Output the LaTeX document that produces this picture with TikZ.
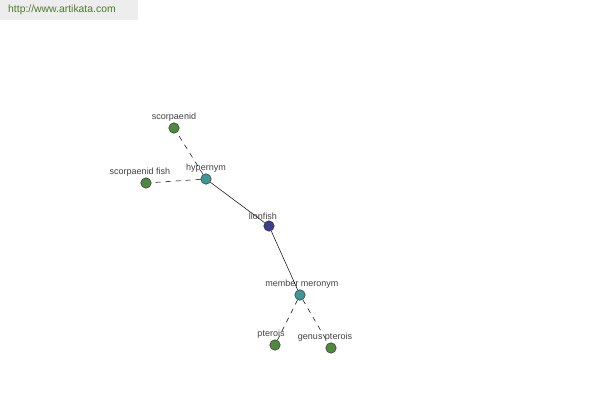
\documentclass[tikz,border=0pt]{standalone}
\usepackage{fontspec}
\setmainfont{Liberation Sans}
\usetikzlibrary{positioning}

\definecolor{leafgreen}{HTML}{4E8A3E}
\definecolor{relteal}{HTML}{3E9696}
\definecolor{rootblue}{HTML}{3C3F8E}
\definecolor{labelgray}{HTML}{404040}
\definecolor{sitegreen}{HTML}{4C7A2E}

\begin{document}
\begin{tikzpicture}[x=1pt, y=-1pt,
    dot/.style={circle, draw=black!80, line width=0.5pt, minimum size=10.5pt, inner sep=0pt},
    leaf/.style={dot, fill=leafgreen},
    rel/.style={dot, fill=relteal},
    root/.style={dot, fill=rootblue},
    tag/.style={above=1pt, inner sep=0pt, font=\fontsize{9}{10}\selectfont, text=labelgray},
    link/.style={line width=0.5pt},
    weak/.style={link, dashed, dash pattern=on 5pt off 5pt}]
    \useasboundingbox (0,0) rectangle (600,400);

    % site banner
    \fill[black!7] (0,0) rectangle (138,20);
    \node[font=\fontsize{10.4}{12}\selectfont, text=sitegreen, anchor=west, inner sep=0pt] (site) at (8,10) {http://www.artikata.com};

    % nodes
    \node[root] (lionfish) at (269,226) {};
    \node[rel] (hyper) at (206,179) {};
    \node[rel] (member) at (300,295) {};
    \node[leaf] (scorp) at (174,128) {};
    \node[leaf] (scorpfish) at (146,183) {};
    \node[leaf] (pterois) at (275,345) {};
    \node[leaf] (genus) at (331,348) {};

    % labels
    \node[tag] (lionfishlbl) at ([xshift=-6pt]lionfish.north) {lionfish};
    \node[tag] (hyperlbl) at (hyper.north) {hypernym};
    \node[tag] (memberlbl) at ([xshift=2pt]member.north) {member meronym};
    \node[tag] (scorplbl) at (scorp.north) {scorpaenid};
    \node[tag] (scorpfishlbl) at ([xshift=-6pt]scorpfish.north) {scorpaenid fish};
    \node[tag] (pteroislbl) at ([xshift=-4pt]pterois.north) {pterois};
    \node[tag] (genuslbl) at ([xshift=-6pt]genus.north) {genus pterois};

    % connectors
    \draw[link] (lionfish) -- (hyper);
    \draw[link] (lionfish) -- (member);
    \draw[weak] (hyper) -- (scorp);
    \draw[weak] (hyper) -- (scorpfish);
    \draw[weak] (member) -- (pterois);
    \draw[weak] (member) -- (genus);
\end{tikzpicture}
\end{document}
